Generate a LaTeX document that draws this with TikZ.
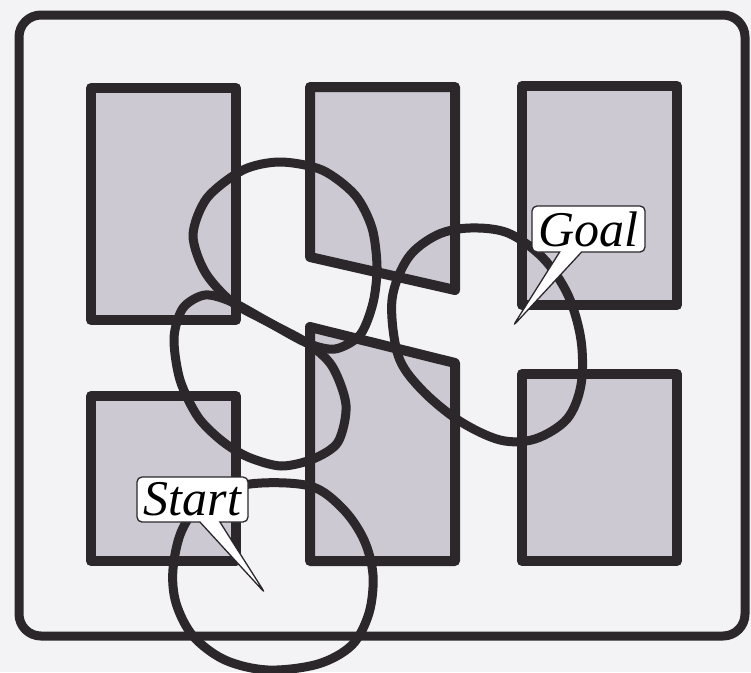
\documentclass[tikz,border=0pt]{standalone}
\usepackage{fontspec}
\setmainfont{Liberation Serif}
\usepackage{tikz}
\usetikzlibrary{shapes.callouts}
\definecolor{WallDark}{HTML}{2B272B}
\definecolor{WallFill}{HTML}{CCC9D2}
\definecolor{PaperLight}{HTML}{F3F2F4}

\begin{document}
\begin{tikzpicture}[
  x=1pt, y=-1pt,
  frame/.style={draw=WallDark, line width=9pt, rounded corners=22pt},
  obstacle/.style={draw=WallDark, fill=WallFill, line width=10pt, line join=round},
  bubble/.style={draw=WallDark, line width=9pt, line join=round},
  tag/.style={rectangle callout, draw=WallDark, fill=white, line width=1.3pt,
    rounded corners=5pt, inner sep=0pt, minimum width=111pt, minimum height=45pt,
    callout pointer width=20pt, font=\fontsize{50}{50}\selectfont\itshape}
]
  \useasboundingbox (0,0) rectangle (751,672);
  \fill[PaperLight] (0,0) rectangle (751,672);

  % obstacles
  \draw[obstacle] (91,88) rectangle (236,320);
  \draw[obstacle] (310,87) -- (455,87) -- (455,290) -- (310,257) -- cycle;
  \draw[obstacle] (522,86) rectangle (677,305);
  \draw[obstacle] (91,396) rectangle (236,561);
  \draw[obstacle] (310,327) -- (455,363) -- (455,561) -- (310,561) -- cycle;
  \draw[obstacle] (522,374) rectangle (677,561);

  % free-space bubbles
  \draw[bubble] plot[smooth cycle, tension=0.5] coordinates {
    (280,162) (322,170) (355,195) (372,228) (377,267) (373,303) (360,335)
    (335,349) (307,343) (270,323) (232,302) (205,272) (193,235) (207,198) (243,170)};
  \draw[bubble] plot[smooth cycle, tension=0.5] coordinates {
    (205,295) (232,302) (270,323) (307,343) (332,366) (346,405) (338,442)
    (313,459) (281,466) (248,457) (222,441) (198,417) (180,380) (174,338) (183,308)};
  \draw[bubble] plot[smooth cycle, tension=0.55] coordinates {
    (392,300) (408,258) (437,235) (470,228) (508,233) (543,258) (568,295)
    (581,340) (581,385) (567,419) (535,439) (500,440) (458,420) (420,388) (398,355)};
  \draw[bubble] plot[smooth cycle, tension=0.55] coordinates {
    (250,484) (310,486) (343,509) (364,540) (373,575) (369,613) (352,645)
    (318,664) (268,670) (225,660) (193,636) (176,603) (173,569) (182,530) (205,500)};

  % workspace border
  \draw[frame] (19,15) rectangle (745,636);

  % labels
  \node[tag, callout absolute pointer={(265,593)}] (start) at (192.5,499.5) {Start};
  \node[tag, callout absolute pointer={(513,326)}, minimum width=113pt,
    minimum height=46pt, callout pointer width=22pt] (goal) at (588.5,229) {Goal};
\end{tikzpicture}
\end{document}
